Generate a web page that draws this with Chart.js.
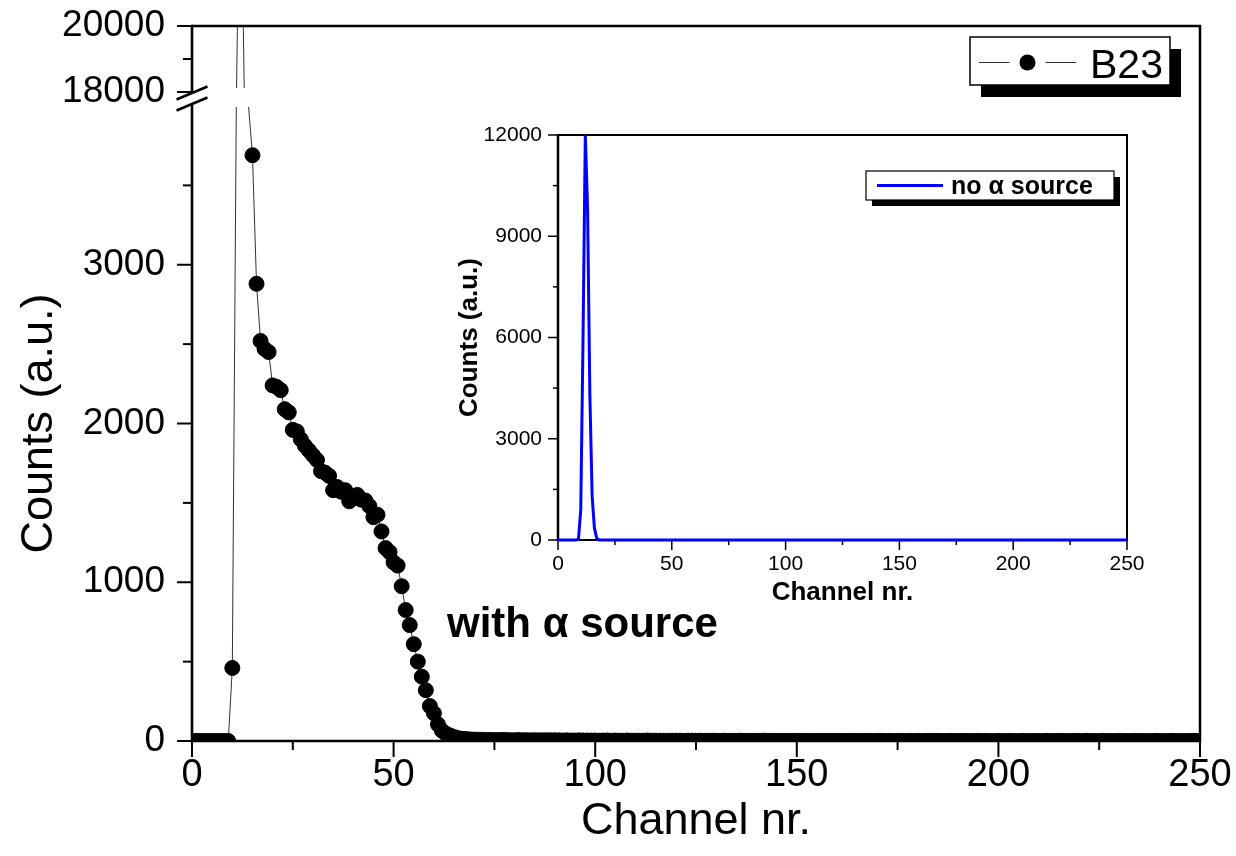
<!DOCTYPE html>
<html>
<head>
<meta charset="utf-8">
<script src="https://cdn.jsdelivr.net/npm/chart.js"></script>
<style>
html,body{margin:0;padding:0;background:#fff;}
#wrap{position:relative;width:1236px;height:856px;overflow:hidden;background:#fff;}
#wrap canvas{position:absolute;left:0;top:0;}
</style>
</head>
<body>
<div id="wrap">
<canvas id="mainChart" width="1236" height="856"></canvas>
<canvas id="insetChart" width="1236" height="856"></canvas>
</div>
<script>
// ---------------- DATA ----------------
const MAIN_LABEL = 'B23';
const MAIN_CHANNELS = [
  0,1,2,3,4,5,6,7,8,9,10,11,12,13,14,15,16,17,18,19,20,21,22,23,24,
  25,26,27,28,29,30,31,32,33,34,35,36,37,38,39,40,41,42,43,44,45,46,47,48,49,
  50,51,52,53,54,55,56,57,58,59,60,61,62,63,64,65,66,67,68,69,70,71,72,73,74,
  75,76,77,78,79,80,81,82,83,84,85,86,87,88,89,90,91,92,93,94,95,96,97,98,99,
  100,101,102,103,104,105,106,107,108,109,110,111,112,113,114,115,116,117,118,119,120,121,122,123,124,
  125,126,127,128,129,130,131,132,133,134,135,136,137,138,139,140,141,142,143,144,145,146,147,148,149,
  150,151,152,153,154,155,156,157,158,159,160,161,162,163,164,165,166,167,168,169,170,171,172,173,174,
  175,176,177,178,179,180,181,182,183,184,185,186,187,188,189,190,191,192,193,194,195,196,197,198,199,
  200,201,202,203,204,205,206,207,208,209,210,211,212,213,214,215,216,217,218,219,220,221,222,223,224,
  225,226,227,228,229,230,231,232,233,234,235,236,237,238,239,240,241,242,243,244,245,246,247,248,249,
  250
];
const MAIN_COUNTS = [
  0,0,0,0,0,0,0,0,0,0,
  460,10000,26000,9000,5000,3690,2880,2520,2470,2450,
  2240,2230,2210,2090,2070,1960,1950,1900,1860,1830,
  1800,1770,1700,1690,1670,1580,1600,1570,1580,1510,
  1530,1550,1520,1515,1480,1410,1425,1320,1215,1190,
  1125,1105,975,825,730,610,500,405,320,220,
  175,105,65,45,35,25,18,14,12,10,
  9,8,8,7,7,6,6,7,6,5,5,6,5,5,4,5,4,4,5,4,
  4,4,3,4,3,3,4,3,3,3,3,2,3,3,2,3,2,2,3,2,
  2,2,2,3,2,2,2,1,2,2,2,2,1,2,2,1,2,1,1,2,
  1,1,2,1,1,1,2,1,1,1,1,1,2,1,1,1,1,1,1,1,
  1,1,1,0,1,1,1,1,0,1,1,1,0,1,1,0,1,1,1,0,
  1,1,0,1,0,1,1,0,1,0,1,0,1,1,0,1,0,0,1,0,
  1,0,1,0,0,1,0,1,0,0,1,0,0,1,0,0,1,0,0,1,
  0,0,1,0,0,1,0,0,0,1,0,0,1,0,0,0,1,0,0,0,
  1,0,0,0,1,0,0,0,0,1,0,0,0,1,0,0,0,0,1,0,0
];
const MAIN_X_TICKS = [0,25,50,75,100,125,150,175,200,225,250];
const MAIN_X_MAJOR = [0,50,100,150,200,250];
const MAIN_Y_TICKS = [0,500,1000,1500,2000,2500,3000,3500,18000,19000,20000];
const MAIN_Y_MAJOR = [0,1000,2000,3000,18000,20000];
const MAIN_Y_BREAK = [4000,18000];

const INSET_LABEL = 'no \u03b1 source';
const INSET_CHANNELS = [0,8,9,10,11,12,13,14,15,16,17,18,250];
const INSET_COUNTS   = [0,0,30,900,6000,12000,9800,4300,1300,350,60,0,0];
const INSET_X_TICKS = [0,25,50,75,100,125,150,175,200,225,250];
const INSET_X_MAJOR = [0,50,100,150,200,250];
const INSET_Y_TICKS = [0,1500,3000,4500,6000,7500,9000,10500,12000];
const INSET_Y_MAJOR = [0,3000,6000,9000,12000];

const ANNOTATION = 'with \u03b1 source';

// ---------------- SETUP ----------------
const FONT = "'Liberation Sans', Arial, Helvetica, sans-serif";
Chart.defaults.font.family = FONT;
Chart.defaults.color = '#000';

// Linear scale with an axis break (piecewise mapping)
class BrokenScale extends Chart.LinearScale {
  static id = 'broken';
  _frac(v) {
    const b = this.options.breakAt, f = this.options.breakFrac;
    const min = this.min, max = this.max;
    if (v <= b[0]) return (v - min) / (b[0] - min) * f[0];
    if (v >= b[1]) return f[1] + (v - b[1]) / (max - b[1]) * (1 - f[1]);
    return f[0] + (v - b[0]) / (b[1] - b[0]) * (f[1] - f[0]);
  }
  getPixelForValue(v) {
    return this.bottom - this._frac(v) * (this.bottom - this.top);
  }
  getValueForPixel(p) {
    const b = this.options.breakAt, f = this.options.breakFrac;
    const d = (this.bottom - p) / (this.bottom - this.top);
    if (d <= f[0]) return this.min + d / f[0] * (b[0] - this.min);
    if (d >= f[1]) return b[1] + (d - f[1]) / (1 - f[1]) * (this.max - b[1]);
    return b[0] + (d - f[0]) / (f[1] - f[0]) * (b[1] - b[0]);
  }
  drawTitle() {
    const lowTop = this.getPixelForValue(this.options.breakAt[0]);
    const saved = this.top;
    this.top = lowTop;
    super.drawTitle();
    this.top = saved;
  }
}
Chart.register(BrokenScale);

function seg(ctx, x1, y1, x2, y2) {
  ctx.beginPath(); ctx.moveTo(x1, y1); ctx.lineTo(x2, y2); ctx.stroke();
}

function drawFrame(chart, o) {
  const {ctx, chartArea: a} = chart;
  const xs = chart.scales.x, ys = chart.scales.y;
  ctx.save();
  ctx.strokeStyle = '#000';
  ctx.lineCap = 'butt';
  ctx.lineJoin = 'miter';
  ctx.lineWidth = o.frameWidth;
  ctx.beginPath();
  ctx.moveTo(a.left, a.top); ctx.lineTo(a.right, a.top);
  ctx.lineTo(a.right, a.bottom); ctx.lineTo(a.left - o.axisWidth / 2, a.bottom);
  ctx.stroke();
  ctx.lineWidth = o.axisWidth;
  if (o.breakValues) {
    const yHi = ys.getPixelForValue(o.breakValues[1]);
    const yLo = ys.getPixelForValue(o.breakValues[0]);
    seg(ctx, a.left, a.top - o.frameWidth / 2, a.left, yHi + 1);
    seg(ctx, a.left, yLo - 2, a.left, a.bottom + o.frameWidth / 2);
    const dx = 15.5, dy = 6.5;
    seg(ctx, a.left - dx, yHi + 1 + dy, a.left + dx, yHi + 1 - dy);
    seg(ctx, a.left - dx, yLo - 2 + dy, a.left + dx, yLo - 2 - dy);
  } else {
    seg(ctx, a.left, a.top - o.frameWidth / 2, a.left, a.bottom + o.frameWidth / 2);
  }
  ctx.lineWidth = o.tickWidth;
  for (const t of ys.ticks) {
    const py = ys.getPixelForValue(t.value);
    const L = o.yMajor.includes(t.value) ? o.yMajorLen : o.yMinorLen;
    seg(ctx, a.left - L, py, a.left, py);
  }
  for (const t of xs.ticks) {
    const px = xs.getPixelForValue(t.value);
    const L = o.xMajor.includes(t.value) ? o.xMajorLen : o.xMinorLen;
    seg(ctx, px, a.bottom, px, a.bottom + L);
  }
  ctx.restore();
}

const frameTicks = {
  id: 'frameTicks',
  beforeDatasetsDraw(chart, args, o) { if (o.under) drawFrame(chart, o); },
  afterDatasetsDraw(chart, args, o) { if (!o.under) drawFrame(chart, o); }
};

const gapClip = {
  id: 'gapClip',
  beforeDatasetDraw(chart, args, o) {
    if (!o.breakValues) return;
    const {ctx, chartArea: a} = chart;
    const ys = chart.scales.y;
    const yHi = ys.getPixelForValue(o.breakValues[1]) - 4;
    const yLo = ys.getPixelForValue(o.breakValues[0]) + 1;
    ctx.save();
    ctx.beginPath();
    ctx.rect(a.left - 10, a.top - 10, a.width + 20, yHi - a.top + 10);
    ctx.rect(a.left - 10, yLo, a.width + 20, a.bottom - yLo + 10);
    ctx.clip();
  },
  afterDatasetDraw(chart, args, o) {
    if (!o.breakValues) return;
    chart.ctx.restore();
  }
};

const boxLegend = {
  id: 'boxLegend',
  afterDraw(chart, args, o) {
    if (!o.box) return;
    const ctx = chart.ctx;
    const ds = chart.data.datasets[0];
    const [bx, by, bw, bh] = o.box;
    ctx.save();
    ctx.fillStyle = '#000';
    ctx.fillRect(bx + o.shadow[0], by + o.shadow[1], bw, bh);
    ctx.fillStyle = '#fff';
    ctx.fillRect(bx, by, bw, bh);
    ctx.lineWidth = o.borderWidth;
    ctx.strokeStyle = '#000';
    ctx.strokeRect(bx, by, bw, bh);
    const [x1, x2, ly] = o.sample;
    ctx.strokeStyle = ds.borderColor;
    ctx.lineWidth = o.lineWidth;
    if (o.dotRadius) {
      const cx = (x1 + x2) / 2;
      seg(ctx, x1, ly, cx - o.dotGap, ly);
      seg(ctx, cx + o.dotGap, ly, x2, ly);
      ctx.fillStyle = ds.pointBackgroundColor;
      ctx.beginPath(); ctx.arc(cx, ly, o.dotRadius, 0, Math.PI * 2); ctx.fill();
    } else {
      seg(ctx, x1, ly, x2, ly);
    }
    ctx.fillStyle = '#000';
    ctx.font = o.font;
    ctx.textAlign = 'left';
    ctx.textBaseline = 'alphabetic';
    ctx.fillText(ds.label, o.textPos[0], o.textPos[1]);
    ctx.restore();
  }
};

const annotText = {
  id: 'annotText',
  afterDraw(chart, args, o) {
    if (!o.text) return;
    const ctx = chart.ctx;
    ctx.save();
    ctx.fillStyle = '#000';
    ctx.font = o.font;
    ctx.textAlign = 'left';
    ctx.textBaseline = 'alphabetic';
    ctx.fillText(o.text, o.pos[0], o.pos[1]);
    ctx.restore();
  }
};

const hiddenTicks = (len) => ({
  display: true, drawOnChartArea: false, drawTicks: true,
  tickLength: len, tickColor: 'rgba(0,0,0,0)', color: 'rgba(0,0,0,0)'
});

// ---------------- MAIN CHART ----------------
new Chart(document.getElementById('mainChart'), {
  type: 'line',
  data: {
    datasets: [{
      label: MAIN_LABEL,
      data: MAIN_CHANNELS.map((c, i) => ({x: c, y: MAIN_COUNTS[i]})),
      borderColor: '#333',
      borderWidth: 1,
      tension: 0,
      pointRadius: (c) => {
        const v = c.raw ? c.raw.y : 0;
        return (v > MAIN_Y_BREAK[0] && v < MAIN_Y_BREAK[1]) ? 0 : 7.5;
      },
      pointBackgroundColor: '#000',
      pointBorderColor: '#000',
      pointBorderWidth: 1
    }]
  },
  options: {
    responsive: false,
    animation: false,
    events: [],
    layout: {padding: {left: 0, right: 36, top: 26, bottom: 0}},
    plugins: {
      legend: {display: false},
      tooltip: {enabled: false},
      frameTicks: {
        under: false, frameWidth: 2.5, axisWidth: 2.6, tickWidth: 2,
        xMajor: MAIN_X_MAJOR, yMajor: MAIN_Y_MAJOR,
        xMajorLen: 16, xMinorLen: 9, yMajorLen: 15, yMinorLen: 9,
        breakValues: MAIN_Y_BREAK
      },
      gapClip: {breakValues: MAIN_Y_BREAK},
      boxLegend: {
        box: [970, 37, 200, 48], shadow: [11, 12], borderWidth: 1.5,
        sample: [979, 1076, 62.5], dotRadius: 8, dotGap: 18, lineWidth: 1,
        font: "41px " + FONT, textPos: [1090, 78]
      },
      annotText: {text: ANNOTATION, font: "bold 42px " + FONT, pos: [447, 637]}
    },
    scales: {
      x: {
        type: 'linear', min: 0, max: 250,
        afterBuildTicks: (s) => { s.ticks = MAIN_X_TICKS.map(v => ({value: v})); },
        afterFit: (s) => { s.height = 115; },
        grid: hiddenTicks(16),
        border: {display: false},
        ticks: {
          autoSkip: false, maxRotation: 0, minRotation: 0, padding: 0, color: '#000',
          font: {size: 38, lineHeight: 1},
          callback: (v) => MAIN_X_MAJOR.includes(v) ? String(v) : ''
        },
        title: {display: true, text: 'Channel nr.', color: '#000',
                font: {size: 45, lineHeight: 1.2}, padding: {top: 0, bottom: 7}}
      },
      y: {
        type: 'broken', min: 0, max: 20000,
        breakAt: MAIN_Y_BREAK, breakFrac: [635 / 715, 649 / 715],
        afterBuildTicks: (s) => { s.ticks = MAIN_Y_TICKS.map(v => ({value: v})); },
        afterFit: (s) => { s.width = 192; },
        grid: hiddenTicks(27),
        border: {display: false},
        ticks: {
          autoSkip: false, padding: 0, color: '#000',
          font: {size: 37, lineHeight: 1},
          callback: (v) => MAIN_Y_MAJOR.includes(v) ? String(v) : ''
        },
        title: {display: true, text: 'Counts (a.u.)', color: '#000',
                font: {size: 45, lineHeight: 1.2}, padding: {top: 13, bottom: 0}}
      }
    }
  },
  plugins: [frameTicks, gapClip, boxLegend, annotText]
});

// ---------------- INSET CHART ----------------
new Chart(document.getElementById('insetChart'), {
  type: 'line',
  data: {
    datasets: [{
      label: INSET_LABEL,
      data: INSET_CHANNELS.map((c, i) => ({x: c, y: INSET_COUNTS[i]})),
      borderColor: '#0000ff',
      borderWidth: 3,
      pointRadius: 0,
      tension: 0,
      clip: {left: 2, right: 2, top: 0, bottom: 3}
    }]
  },
  options: {
    responsive: false,
    animation: false,
    events: [],
    layout: {padding: {left: 440, right: 109, top: 135, bottom: 236}},
    plugins: {
      legend: {display: false},
      tooltip: {enabled: false},
      frameTicks: {
        under: true, frameWidth: 2, axisWidth: 2.5, tickWidth: 1.5,
        xMajor: INSET_X_MAJOR, yMajor: INSET_Y_MAJOR,
        xMajorLen: 10, xMinorLen: 5, yMajorLen: 10, yMinorLen: 5,
        breakValues: null
      },
      boxLegend: {
        box: [866, 171, 248, 29], shadow: [6, 6], borderWidth: 1.2,
        sample: [877, 943, 185.5], dotRadius: 0, lineWidth: 3,
        font: "bold 25px " + FONT, textPos: [951, 194]
      }
    },
    scales: {
      x: {
        type: 'linear', min: 0, max: 250,
        afterBuildTicks: (s) => { s.ticks = INSET_X_TICKS.map(v => ({value: v})); },
        afterFit: (s) => { s.height = 80; },
        grid: hiddenTicks(14),
        border: {display: false},
        ticks: {
          autoSkip: false, maxRotation: 0, minRotation: 0, padding: 0, color: '#000',
          font: {size: 21, lineHeight: 1},
          callback: (v) => INSET_X_MAJOR.includes(v) ? String(v) : ''
        },
        title: {display: true, text: 'Channel nr.', color: '#000',
                font: {size: 26, weight: 'bold', lineHeight: 1.2}, padding: {top: 0, bottom: 11.5}}
      },
      y: {
        type: 'linear', min: 0, max: 12000,
        afterBuildTicks: (s) => { s.ticks = INSET_Y_TICKS.map(v => ({value: v})); },
        afterFit: (s) => { s.width = 118; },
        grid: hiddenTicks(16),
        border: {display: false},
        ticks: {
          autoSkip: false, padding: 0, color: '#000',
          font: {size: 21, lineHeight: 1},
          callback: (v) => INSET_Y_MAJOR.includes(v) ? String(v) : ''
        },
        title: {display: true, text: 'Counts (a.u.)', color: '#000',
                font: {size: 26, weight: 'bold', lineHeight: 1.2}, padding: {top: 14.4, bottom: 0}}
      }
    }
  },
  plugins: [frameTicks, boxLegend]
});
</script>
</body>
</html>
